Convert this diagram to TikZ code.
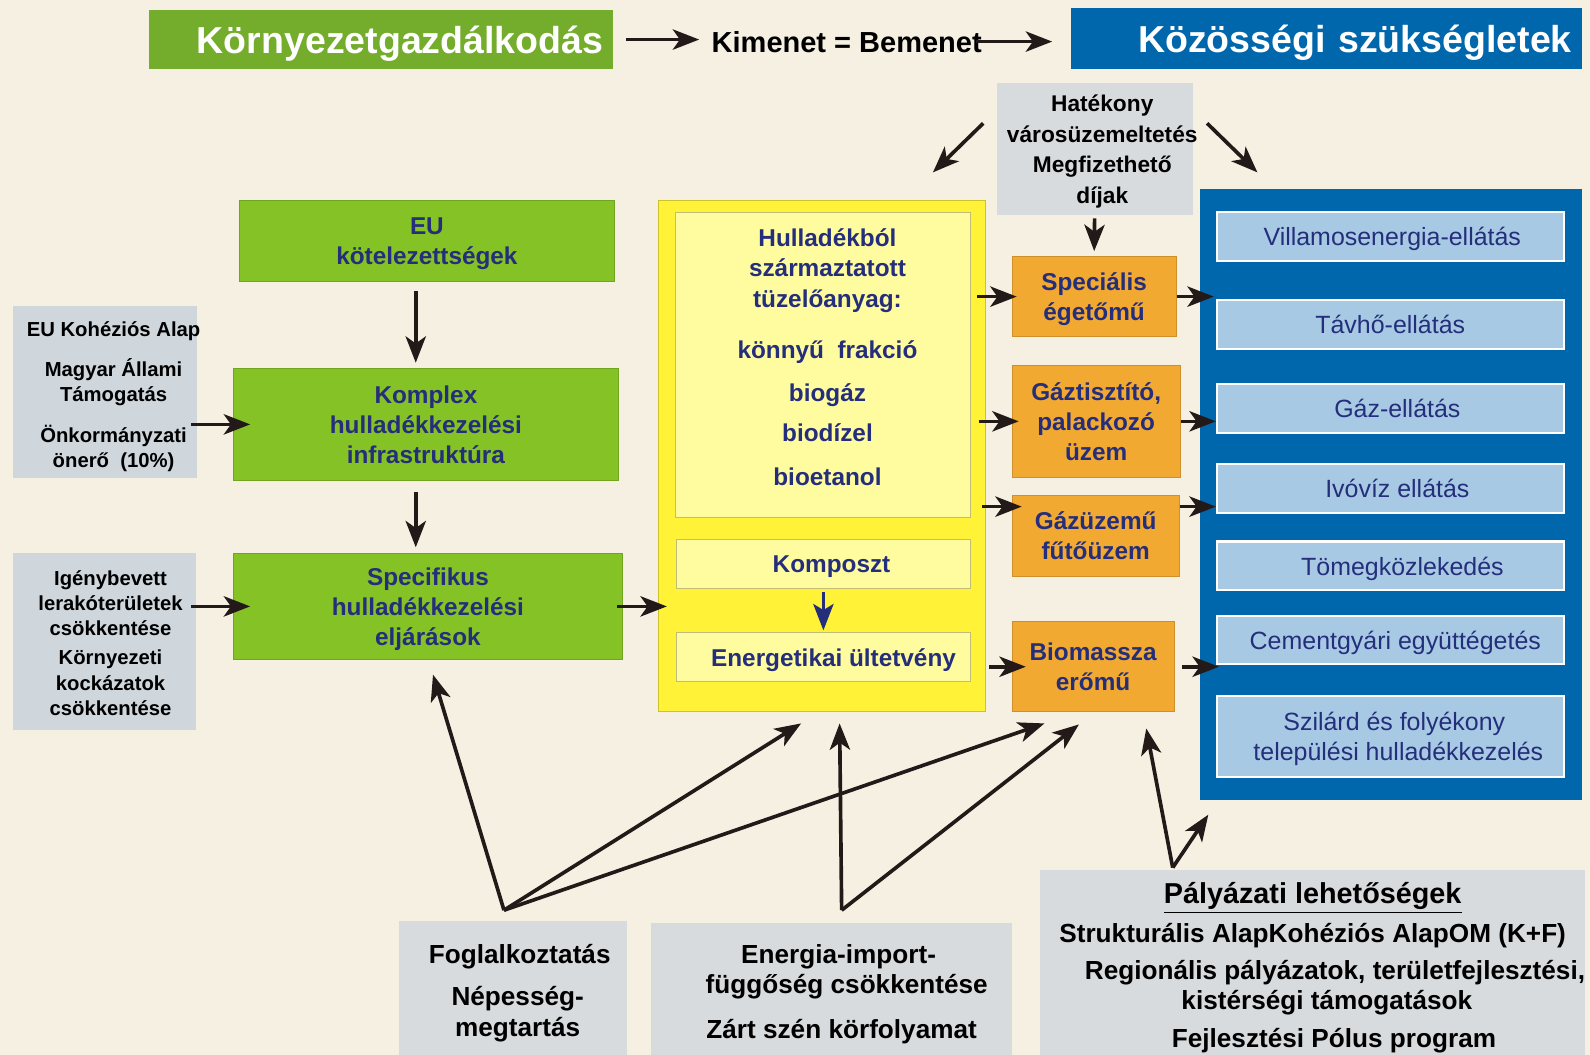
\documentclass[tikz,border=0pt]{standalone}
\usepackage{fontspec}
\setmainfont{Liberation Sans}
\usetikzlibrary{arrows.meta}

\definecolor{bgcream}{RGB}{245,240,225}
\definecolor{titlegreen}{RGB}{116,172,44}
\definecolor{boxgreen}{RGB}{133,194,38}
\definecolor{topblue}{RGB}{0,103,172}
\definecolor{serviceblue}{RGB}{167,201,228}
\definecolor{navy}{RGB}{36,46,122}
\definecolor{fuelyellow}{RGB}{255,242,55}
\definecolor{paleyellow}{RGB}{255,252,160}
\definecolor{plantorange}{RGB}{242,169,50}
\definecolor{ltgrey}{RGB}{216,219,222}
\definecolor{sidegrey}{RGB}{207,215,221}
\definecolor{arrowblack}{RGB}{35,25,25}

\newcommand{\setfs}[2]{\fontsize{#1}{#2}\selectfont}

\begin{document}
\begin{tikzpicture}[x=0.5pt, y=-0.5pt,
    arr/.style={-{Stealth[length=13pt,width=10pt,inset=3.5pt]}, line width=1.8pt, draw=arrowblack},
    navyarr/.style={-{Stealth[length=13pt,width=10pt,inset=3pt]}, line width=1.5pt, draw=navy},
    plainbox/.style={rectangle, inner sep=0pt, align=center, text depth=0pt},
    titlebox/.style={plainbox, inner xsep=5pt, text=white, font=\bfseries\setfs{18.5}{22}},
    greenbox/.style={plainbox, fill=boxgreen, draw=boxgreen!85!black, line width=0.3pt, text=navy, font=\bfseries\setfs{12}{14.75}},
    greybox/.style={plainbox, fill=ltgrey},
    greytext/.style={plainbox, font=\bfseries\setfs{11.2}{15}},
    sidebox/.style={plainbox, fill=sidegrey},
    sidetext/.style={plainbox, font=\bfseries\setfs{10}{12.4}},
    bottombox/.style={plainbox, fill=ltgrey, font=\bfseries\setfs{12.9}{15}},
    yelbox/.style={plainbox, fill=fuelyellow, draw=fuelyellow!80!black, line width=0.4pt},
    ltyelbox/.style={plainbox, fill=paleyellow, draw=paleyellow!75!black, line width=0.4pt, text=navy, font=\bfseries\setfs{12}{15}},
    fueltext/.style={plainbox, text=navy, font=\bfseries\setfs{12}{15}},
    plantbox/.style={plainbox, fill=plantorange, draw=plantorange!85!black, line width=0.4pt, text=navy, font=\bfseries\setfs{12}{14.75}},
    needbox/.style={plainbox, fill=topblue},
    servicebox/.style={plainbox, fill=serviceblue, draw=white, line width=1pt, text=navy, font=\setfs{12.3}{14.5}}]

  \path[use as bounding box, fill=bgcream] (0,0) rectangle (1568,1040);

  % header line
  \node[titlebox, fill=titlegreen, minimum width=229pt, minimum height=29pt, text width=219pt, align=right] (kgaz) at (376,39) {Környezetgazdálkodás};
  \node[font=\bfseries\setfs{14.3}{16}, inner sep=0pt, text depth=0pt] (kimenet) at (835,41) {Kimenet = Bemenet};
  \node[titlebox, fill=topblue, minimum width=252pt, minimum height=30pt, text width=242pt, align=right] (kozos) at (1308,38) {Közösségi szükségletek};

  \node[greybox, minimum width=96.5pt, minimum height=65pt] (hatek) at (1079.5,147) {};
  \node[greytext] (hatektxt) at (1087,147) {Hatékony\\városüzemeltetés\\Megfizethető\\díjak};
  \coordinate (hatL) at (920,170);
  \coordinate (hatR) at (1240,170);

  % left column
  \node[greenbox, minimum width=185pt, minimum height=39.5pt] (euk) at (421,237.5) {EU\\kötelezettségek};
  \node[greenbox, minimum width=190pt, minimum height=55.5pt] (kompl) at (420,418.5) {Komplex\\hulladékkezelési\\infrastruktúra};
  \node[greenbox, minimum width=192pt, minimum height=52pt] (spcf) at (422,598) {Specifikus\\hulladékkezelési\\eljárások};

  \node[sidebox, minimum width=90.5pt, minimum height=84.5pt] (fund) at (103.5,386.5) {};
  \node[sidetext] (fundtxt) at (112,389) {EU Kohéziós Alap\\[7.5pt]Magyar Állami\\Támogatás\\[7.5pt]Önkormányzati\\önerő\ \ (10\%)};
  \node[sidebox, minimum width=90pt, minimum height=87.5pt] (env) at (103,632.5) {};
  \node[sidetext] (envtxt) at (109,634) {Igénybevett\\lerakóterületek\\csökkentése\\[2pt]Környezeti\\kockázatok\\csökkentése};

  % fuels
  \node[yelbox, minimum width=161.5pt, minimum height=252pt] (yel) at (810.5,450) {};
  \node[ltyelbox, minimum width=145.5pt, minimum height=150.5pt] (fuelbox) at (811.5,359.5) {};
  \node[fueltext] (fuel) at (816,352) {Hulladékból\\származtatott\\tüzelőanyag:\\[10.5pt]könnyű\ \ frakció\\[6pt]biogáz\\[5pt]biodízel\\[6.5pt]bioetanol};
  \node[ltyelbox, minimum width=145pt, minimum height=24pt] (komp) at (812,556) {\hspace*{8pt}Komposzt};
  \node[ltyelbox, minimum width=145pt, minimum height=24pt] (ultet) at (812,648) {\hspace*{10pt}Energetikai ültetvény};

  % plants
  \node[plantbox, minimum width=81pt, minimum height=39.5pt] (spec) at (1079,292.5) {Speciális\\égetőmű};
  \node[plantbox, minimum width=83pt, minimum height=55.5pt] (gazt) at (1081,415.5) {Gáztisztító,\\palackozó\\üzem};
  \node[plantbox, minimum width=82.5pt, minimum height=39.5pt] (gazu) at (1080.5,528.5) {Gázüzemű\\fűtőüzem};
  \node[plantbox, minimum width=80pt, minimum height=44.5pt] (biom) at (1078,657.5) {Biomassza\\erőmű};

  % needs
  \node[needbox, minimum width=188.5pt, minimum height=301.5pt] (needs) at (1371.5,487.5) {};
  \node[servicebox, minimum width=171pt, minimum height=24pt] (villa) at (1371,233) {\hspace*{2pt}Villamosenergia-ellátás};
  \node[servicebox, minimum width=171pt, minimum height=24pt] (tavho) at (1371,320) {Távhő-ellátás};
  \node[servicebox, minimum width=171pt, minimum height=24pt] (gaze) at (1371,403) {\hspace*{7pt}Gáz-ellátás};
  \node[servicebox, minimum width=171pt, minimum height=24pt] (ivoviz) at (1371,482) {\hspace*{7pt}Ivóvíz ellátás};
  \node[servicebox, minimum width=171pt, minimum height=24pt] (tomeg) at (1371,558) {\hspace*{12pt}Tömegközlekedés};
  \node[servicebox, minimum width=171pt, minimum height=24pt] (cement) at (1371,631) {\hspace*{5pt}Cementgyári együttégetés};
  \node[servicebox, minimum width=171pt, minimum height=40pt] (szilard) at (1371,726) {\hspace*{4pt}Szilárd és folyékony\\\hspace*{8pt}települési hulladékkezelés};

  % bottom
  \node[bottombox, minimum width=112.5pt, minimum height=68.5pt] (jobs) at (505.5,976.5) {\hspace*{7pt}Foglalkoztatás\\[6pt]\hspace*{5pt}Népesség-\\\hspace*{5pt}megtartás};
  \node[bottombox, minimum width=178pt, minimum height=67.5pt] (energy) at (820,977.5) {\hspace*{7pt}Energia-import-\\\hspace*{15pt}függőség csökkentése\\[7pt]\hspace*{10pt}Zárt szén körfolyamat};
  \node[bottombox, minimum width=267.5pt, minimum height=93.5pt] (grants) at (1294.5,951.5) {{\setfs{14.2}{15}\underline{Pályázati lehetőségek}}\\[4.5pt]Strukturális AlapKohéziós AlapOM (K+F)\\[3pt]\hspace*{22pt}Regionális pályázatok, területfejlesztési,\\\hspace*{14pt}kistérségi támogatások\\[3.5pt]\hspace*{21pt}Fejlesztési Pólus program};

  \coordinate (jobstop) at ([shift={(-8.5,-10)}]jobs.north);
  \coordinate (energytop) at ([shift={(10,-12)}]energy.north);
  \coordinate (grantstop) at ([shift={(131,-2)}]grants.north west);
  \coordinate (gazuin) at ([yshift=-5.5pt]gazu.north west);
  \coordinate (gazuout) at ([yshift=-5.5pt]gazu.north east);

  % arrows
  \draw[arr, shorten <=6pt, shorten >=6pt] (kgaz.east) -- (kgaz.east -| kimenet.west);
  \draw[arr, shorten <=-3pt, shorten >=9pt] (kimenet.east) -- (kimenet.east -| kozos.west);
  \draw[arr] ([shift={(-13,40)}]hatek.north west) -- (hatL);
  \draw[arr] ([shift={(14,40)}]hatek.north east) -- (hatR);
  \draw[arr, shorten <=1.5pt, shorten >=2.5pt] (hatek.south) -- (spec.north);

  \draw[arr, shorten <=5pt, shorten >=2.5pt] ([xshift=-5.5pt]euk.south) -- ([xshift=-5pt]kompl.north);
  \draw[arr, shorten <=5.5pt, shorten >=3pt] ([xshift=-5pt]kompl.south) -- ([xshift=-6pt]spcf.north);
  \draw[arr, shorten <=-3pt, shorten >=-8.5pt] (fund.east |- kompl.west) -- (kompl.west);
  \draw[arr, shorten <=-2.5pt, shorten >=-8.5pt] (env.east |- spcf.west) -- (spcf.west);
  \draw[arr, shorten <=-3pt, shorten >=-4.5pt] (spcf.east) -- (spcf.east -| yel.west);

  \draw[navyarr, shorten <=1.5pt, shorten >=1pt] (komp.south) -- (ultet.north);

  \draw[arr, shorten <=-4.5pt, shorten >=-2.5pt] (spec.west -| yel.east) -- (spec.west);
  \draw[arr, shorten <=-3.5pt, shorten >=-3.5pt] (gazt.west -| yel.east) -- (gazt.west);
  \draw[arr, shorten <=-2pt, shorten >=-5pt] (gazuin -| yel.east) -- (gazuin);
  \draw[arr, shorten <=1.5pt, shorten >=-7pt] (biom.west -| yel.east) -- (biom.west);

  \draw[arr, shorten >=1pt] (spec.east) -- (spec.east -| tavho.west);
  \draw[arr] (gazt.east) -- (gazt.east -| gaze.west);
  \draw[arr] (gazuout) -- (gazuout -| ivoviz.west);
  \draw[arr, shorten <=3.5pt, shorten >=-1.5pt] (biom.east) -- (biom.east -| cement.west);

  \draw[arr] (jobstop) -- ([shift={(5,15)}]spcf.south);
  \draw[arr] (jobstop) -- ([shift={(-20.5,11)}]yel.south);
  \draw[arr] (jobstop) -- ([shift={(-48,11)}]biom.south);
  \draw[arr] (energytop) -- ([shift={(17.5,11)}]yel.south);
  \draw[arr] (energytop) -- ([shift={(-14,12)}]biom.south);
  \draw[arr] (grantstop) -- ([shift={(-28,16)}]biom.south east);
  \draw[arr] (grantstop) -- ([shift={(9,14)}]needs.south west);
\end{tikzpicture}
\end{document}
